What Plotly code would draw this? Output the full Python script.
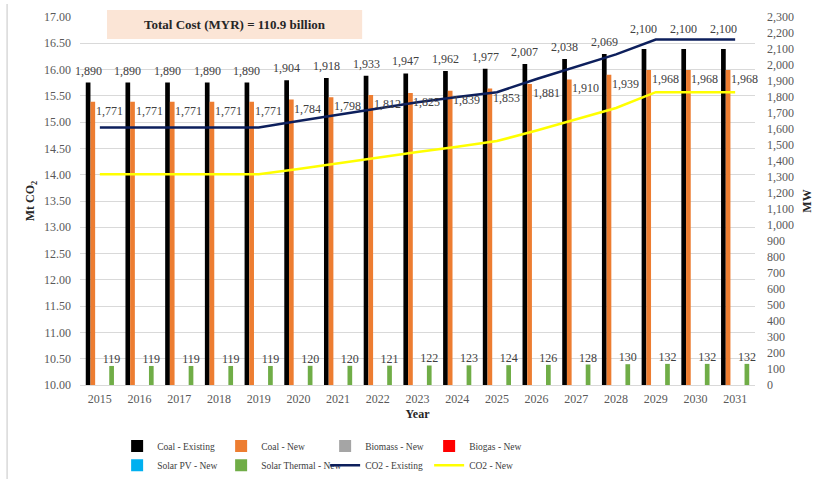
import plotly.graph_objects as go

# Years on the category axis
years = [str(y) for y in range(2015, 2032)]

# Installed capacity by technology (MW, right axis)
coal_existing = [1890, 1890, 1890, 1890, 1890, 1904, 1918, 1933, 1947, 1962, 1977, 2007, 2038, 2069, 2100, 2100, 2100]
coal_new = [1771, 1771, 1771, 1771, 1771, 1784, 1798, 1812, 1825, 1839, 1853, 1881, 1910, 1939, 1968, 1968, 1968]
biomass_new = [0] * 17
biogas_new = [0] * 17
solar_pv_new = [0] * 17
solar_thermal_new = [119, 119, 119, 119, 119, 120, 120, 121, 122, 123, 124, 126, 128, 130, 132, 132, 132]

# Emissions (Mt CO2, left axis)
co2_existing = [14.90, 14.90, 14.90, 14.90, 14.90, 15.02, 15.14, 15.26, 15.38, 15.48, 15.57, 15.82, 16.06, 16.29, 16.57, 16.57, 16.57]
co2_new = [14.01, 14.01, 14.01, 14.01, 14.01, 14.11, 14.22, 14.33, 14.43, 14.53, 14.64, 14.84, 15.05, 15.27, 15.57, 15.57, 15.57]

SERIF = "Liberation Serif"
TICK = "#595959"
LABEL = "#404040"
TITLE = "#262626"
BARGAP = 0.29
N_BARS = 6

fig = go.Figure()

bar_series = [
    ("Coal - Existing", coal_existing, "#000000", "legend"),
    ("Coal - New", coal_new, "#ED7D31", "legend"),
    ("Biomass - New", biomass_new, "#A5A5A5", "legend"),
    ("Biogas - New", biogas_new, "#FF0000", "legend"),
    ("Solar PV - New", solar_pv_new, "#00B0F0", "legend2"),
    ("Solar Thermal - New", solar_thermal_new, "#70AD47", "legend2"),
]
for name, vals, color, leg in bar_series:
    labelled = name == "Solar Thermal - New"
    fig.add_trace(go.Bar(
        x=years, y=vals, name=name, yaxis="y", legend=leg,
        marker=dict(color=color, line=dict(width=0)),
        text=[f"{v:,}" for v in vals] if labelled else None,
        textposition="outside" if labelled else None,
        constraintext="none", cliponaxis=False,
        textfont=dict(family=SERIF, size=12, color=LABEL),
    ))

# Bar-centre offsets inside each category group (in category units)
slot = (1 - BARGAP) / N_BARS
black_off = -2.5 * slot
orange_off = -1.5 * slot

# Coal - Existing labels above the bars; lifted clear of the CO2 line where it peaks
for i, v in enumerate(coal_existing):
    lift = 20 if v >= 2100 else 12
    fig.add_annotation(x=i + black_off, y=v, xref="x", yref="y", text=f"{v:,}",
                       showarrow=False, yshift=lift, yanchor="middle",
                       font=dict(family=SERIF, size=12, color=LABEL))

# Coal - New labels sit to the right of each bar, just below its top
for i, v in enumerate(coal_new):
    fig.add_annotation(x=i + orange_off, y=v, xref="x", yref="y", text=f"{v:,}",
                       showarrow=False, xshift=16.5, yshift=-9, yanchor="middle",
                       font=dict(family=SERIF, size=12, color=LABEL))

fig.add_trace(go.Scatter(x=years, y=co2_existing, name="CO2 - Existing", yaxis="y2",
                         legend="legend2", mode="lines",
                         line=dict(color="#0D1F5C", width=2.5)))
fig.add_trace(go.Scatter(x=years, y=co2_new, name="CO2 - New", yaxis="y2",
                         legend="legend2", mode="lines",
                         line=dict(color="#FFFF00", width=2.5)))

legend_common = dict(orientation="h", font=dict(family=SERIF, size=9.5, color=LABEL),
                     entrywidth=59, entrywidthmode="pixels", xanchor="left",
                     yanchor="middle", bgcolor="rgba(0,0,0,0)", itemclick=False,
                     traceorder="normal", tracegroupgap=0)

fig.update_layout(
    width=815, height=479,
    margin=dict(l=80, r=60, t=17, b=94, autoexpand=False),
    paper_bgcolor="white", plot_bgcolor="white",
    barmode="group", bargap=BARGAP, bargroupgap=0,
    showlegend=True,
    legend=dict(x=0.055, y=-0.166, **legend_common),
    legend2=dict(x=0.055, y=-0.218, **legend_common),
    xaxis=dict(type="category", range=[-0.5, len(years) - 0.5], showgrid=False,
               showline=True, linecolor="#D9D9D9", linewidth=1, ticks="",
               ticklabelstandoff=3,
               tickfont=dict(family=SERIF, size=12, color=TICK),
               title=dict(text="<b>Year</b>", font=dict(family=SERIF, size=12, color=TITLE),
                          standoff=4)),
    yaxis=dict(side="right", range=[0, 2300], dtick=100, tickformat=",d",
               showgrid=False, zeroline=False, showline=False, ticklabelstandoff=11,
               tickfont=dict(family=SERIF, size=12, color=TICK),
               title=dict(text="<b>MW</b>", font=dict(family=SERIF, size=12, color=TITLE),
                          standoff=9)),
    yaxis2=dict(side="left", overlaying="y", range=[10, 17], dtick=0.5, tickformat=".2f",
                showgrid=True, gridcolor="#D9D9D9", gridwidth=1, zeroline=False,
                showline=False, ticklabelstandoff=8,
                tickfont=dict(family=SERIF, size=12, color=TICK),
                title=dict(text="<b>Mt CO<sub>2</sub></b>",
                           font=dict(family=SERIF, size=12, color=TITLE), standoff=6)),
)

# Cost summary box
fig.add_shape(type="rect", xref="paper", yref="paper", x0=0.04, x1=0.418, y0=0.940, y1=1.019,
              fillcolor="#FBE5D6", line=dict(width=0), layer="above")
fig.add_annotation(xref="paper", yref="paper", x=0.229, y=0.98, xanchor="center",
                   yanchor="middle", showarrow=False,
                   text="<b>Total Cost (MYR) = 110.9 billion</b>",
                   font=dict(family=SERIF, size=13, color=TITLE))

# Frame rule along the left edge
fig.add_shape(type="line", xref="paper", yref="paper", x0=-0.108, x1=-0.108, y0=-0.27, y1=1.035,
              line=dict(color="#D9D9D9", width=1.5))

fig.write_html("out.html")
